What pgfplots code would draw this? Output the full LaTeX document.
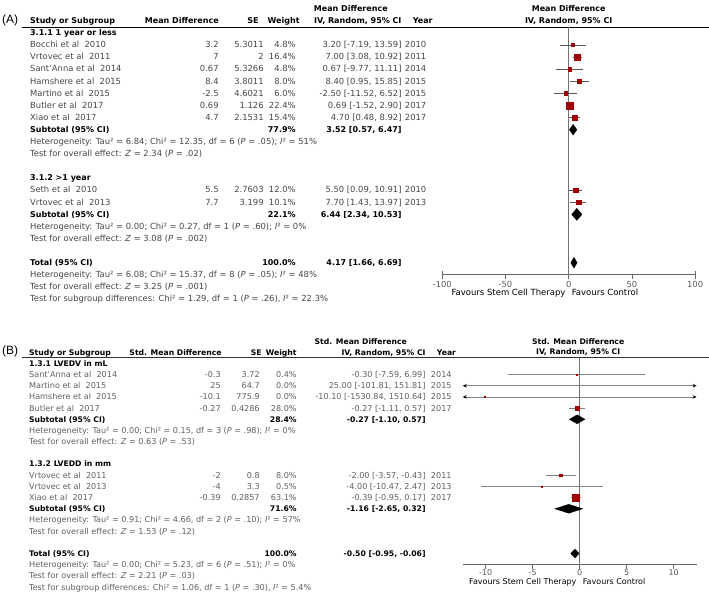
\documentclass[border=0pt]{standalone}
\usepackage{fontspec}
\setmainfont{DejaVu Sans}
\newfontfamily\labfont{Liberation Sans}
\usepackage{pgfplots}
\pgfplotsset{compat=1.18}
\usepackage{pgfplotstable}
\usetikzlibrary{arrows.meta}

\definecolor{sq}{RGB}{160,0,0}
\definecolor{txa}{RGB}{70,70,70}
\definecolor{txb}{RGB}{95,95,95}
\definecolor{cia}{RGB}{85,85,85}
\definecolor{cib}{RGB}{130,130,130}

% panel A: md lo hi weight row
\pgfplotstableread{
md    lo      hi     w    r
3.2   -7.19   13.59  4.8  1
7     3.08    10.92  16.4 2
0.67  -9.77   11.11  4.8  3
8.4   0.95    15.85  8.0  4
-2.5  -11.52  6.52   6.0  5
0.69  -1.52   2.90   22.4 6
4.7   0.48    8.92   15.4 7
5.5   0.09    10.91  12.0 13
7.7   1.43    13.97  10.1 14
}\studiesA

% panel B: std. md lo hi weight row
\pgfplotstableread{
md     lo        hi       w    r
-0.3   -7.59     6.99     0.4  1
25     -101.81   151.81   0.0  2
-10.1  -1530.84  1510.64  0.0  3
-0.27  -1.11     0.57     28.0 4
-2     -3.57     -0.43    8.0  10
-4     -10.47    2.47     0.5  11
-0.39  -0.95     0.17     63.1 12
}\studiesB

\tikzset{
  ta/.style={font=\fontsize{8.4}{10}\selectfont, text=txa, inner sep=0pt},
  tab/.style={font=\fontsize{8.0}{10}\selectfont\bfseries, text=black, inner sep=0pt},
  tb/.style={font=\fontsize{8.1}{10}\selectfont, text=txb, inner sep=0pt},
  tbb/.style={font=\fontsize{7.7}{10}\selectfont\bfseries, text=black, inner sep=0pt},
  fav/.style={font=\fontsize{8.5}{10}\selectfont, text=black, inner sep=0pt},
}

\pgfplotsset{
  forest/.style={
    scale only axis, clip=false,
    axis x line*=bottom, axis y line=none, ytick=\empty,
    tick align=outside, major tick length=4pt,
    axis line style={draw=black!60, line width=0.7pt},
    x tick style={draw=black!60, line width=0.7pt},
  },
  cibars/.style={draw=none, mark=none,
    error bars/.cd, x dir=both, x explicit, error mark=none,
    error bar style={draw=#1, line width=0.7pt}},
}

\newcommand\rowA[7]{%
  \node[ta,anchor=mid west] at (30,#1) {#2};
  \node[ta,anchor=mid east] at (219,#1) {#3};
  \node[ta,anchor=mid east] at (264,#1) {#4};
  \node[ta,anchor=mid east] at (296,#1) {#5};
  \node[ta,anchor=mid east] at (402,#1) {#6};
  \node[ta,anchor=mid west] at (405,#1) {#7};
}
\newcommand\rowB[7]{%
  \node[tb,anchor=mid west] at (29,#1) {#2};
  \node[tb,anchor=mid east] at (221,#1) {#3};
  \node[tb,anchor=mid east] at (260,#1) {#4};
  \node[tb,anchor=mid east] at (297,#1) {#5};
  \node[tb,anchor=mid east] at (426,#1) {#6};
  \node[tb,anchor=mid west] at (431,#1) {#7};
}
\newcommand\Pv{\textit{P}}

\begin{document}
\begin{tikzpicture}

\begin{scope}[x=1pt,y=-1pt]
  \path (0,0) rectangle (709,599);
  \draw[black, line width=0.8pt] (22,27) -- (709,27);
  \draw[black!80, line width=0.8pt] (22,358) -- (709,358);
  \node[fav,anchor=mid east] at (566,293) {Favours Stem Cell Therapy};
  \node[fav,anchor=mid west] at (572,293) {Favours Control};
  \node[fav,font=\fontsize{8.0}{10}\selectfont,anchor=mid east] at (577,582) {Favours Stem Cell Therapy};
  \node[fav,font=\fontsize{8.0}{10}\selectfont,anchor=mid west] at (583,582) {Favours Control};
\end{scope}

% ---------- panel A text ----------
\begin{scope}[x=1pt,y=-12.1pt,shift={(0pt,-33pt)}]
  \node[font=\labfont\fontsize{12}{14}\selectfont,anchor=mid west,inner sep=0pt] at (2,-1.05) {(A)};
  \node[tab,anchor=mid west] at (30,-1) {Study or Subgroup};
  \node[tab,anchor=mid east] at (219,-1) {Mean Difference};
  \node[tab,anchor=mid east] at (259,-1) {SE};
  \node[tab,anchor=mid east] at (300,-1) {Weight};
  \node[tab] at (351,-2) {Mean Difference};
  \node[tab] at (358,-1) {IV, Random, 95\% CI};
  \node[tab] at (423,-1) {Year};
  \node[tab] at (569,-2) {Mean Difference};
  \node[tab] at (569,-1) {IV, Random, 95\% CI};

  \node[tab,anchor=mid west] at (30,0) {3.1.1 1 year or less};
  \rowA{1}{Bocchi et al\ \ 2010}{3.2}{5.3011}{4.8\%}{3.20 [-7.19, 13.59]}{2010}
  \rowA{2}{Vrtovec et al\ \ 2011}{7}{2}{16.4\%}{7.00 [3.08, 10.92]}{2011}
  \rowA{3}{Sant'Anna et al\ \ 2014}{0.67}{5.3266}{4.8\%}{0.67 [-9.77, 11.11]}{2014}
  \rowA{4}{Hamshere et al\ \ 2015}{8.4}{3.8011}{8.0\%}{8.40 [0.95, 15.85]}{2015}
  \rowA{5}{Martino et al\ \ 2015}{-2.5}{4.6021}{6.0\%}{-2.50 [-11.52, 6.52]}{2015}
  \rowA{6}{Butler et al\ \ 2017}{0.69}{1.126}{22.4\%}{0.69 [-1.52, 2.90]}{2017}
  \rowA{7}{Xiao et al\ \ 2017}{4.7}{2.1531}{15.4\%}{4.70 [0.48, 8.92]}{2017}
  \node[tab,anchor=mid west] at (30,8) {Subtotal (95\% CI)};
  \node[tab,anchor=mid east] at (296,8) {77.9\%};
  \node[tab,anchor=mid east] at (402,8) {3.52 [0.57, 6.47]};
  \node[ta,anchor=mid west] at (30,9) {Heterogeneity: Tau² = 6.84; Chi² = 12.35, df = 6 (\Pv{} = .05); \textit{I}² = 51\%};
  \node[ta,anchor=mid west] at (30,10) {Test for overall effect: \textit{Z} = 2.34 (\Pv{} = .02)};

  \node[tab,anchor=mid west] at (30,12) {3.1.2 >1 year};
  \rowA{13}{Seth et al\ \ 2010}{5.5}{2.7603}{12.0\%}{5.50 [0.09, 10.91]}{2010}
  \rowA{14}{Vrtovec et al\ \ 2013}{7.7}{3.199}{10.1\%}{7.70 [1.43, 13.97]}{2013}
  \node[tab,anchor=mid west] at (30,15) {Subtotal (95\% CI)};
  \node[tab,anchor=mid east] at (296,15) {22.1\%};
  \node[tab,anchor=mid east] at (402,15) {6.44 [2.34, 10.53]};
  \node[ta,anchor=mid west] at (30,16) {Heterogeneity: Tau² = 0.00; Chi² = 0.27, df = 1 (\Pv{} = .60); \textit{I}² = 0\%};
  \node[ta,anchor=mid west] at (30,17) {Test for overall effect: \textit{Z} = 3.08 (\Pv{} = .002)};

  \node[tab,anchor=mid west] at (30,19) {Total (95\% CI)};
  \node[tab,anchor=mid east] at (296,19) {100.0\%};
  \node[tab,anchor=mid east] at (402,19) {4.17 [1.66, 6.69]};
  \node[ta,anchor=mid west] at (30,20) {Heterogeneity: Tau² = 6.08; Chi² = 15.37, df = 8 (\Pv{} = .05); \textit{I}² = 48\%};
  \node[ta,anchor=mid west] at (30,21) {Test for overall effect: \textit{Z} = 3.25 (\Pv{} = .001)};
  \node[ta,anchor=mid west] at (30,22) {Test for subgroup differences: Chi² = 1.29, df = 1 (\Pv{} = .26), \textit{I}² = 22.3\%};
\end{scope}

% ---------- panel B text ----------
\begin{scope}[x=1pt,y=-11.19pt,shift={(0pt,-363.8pt)}]
  \node[font=\labfont\fontsize{12}{14}\selectfont,anchor=mid west,inner sep=0pt] at (2,-1.05) {(B)};
  \node[tbb,anchor=mid west] at (29,-1) {Study or Subgroup};
  \node[tbb,anchor=mid east] at (222,-1) {Std. Mean Difference};
  \node[tbb,anchor=mid east] at (262,-1) {SE};
  \node[tbb,anchor=mid east] at (297,-1) {Weight};
  \node[tbb] at (361,-2) {Std. Mean Difference};
  \node[tbb,anchor=mid east] at (426,-1) {IV, Random, 95\% CI};
  \node[tbb,anchor=mid west] at (437,-1) {Year};
  \node[tbb] at (578.5,-2) {Std. Mean Difference};
  \node[tbb] at (578.5,-1) {IV, Random, 95\% CI};

  \node[tbb,anchor=mid west] at (29,0) {1.3.1 LVEDV in mL};
  \rowB{1}{Sant'Anna et al\ \ 2014}{-0.3}{3.72}{0.4\%}{-0.30 [-7.59, 6.99]}{2014}
  \rowB{2}{Martino et al\ \ 2015}{25}{64.7}{0.0\%}{25.00 [-101.81, 151.81]}{2015}
  \rowB{3}{Hamshere et al\ \ 2015}{-10.1}{775.9}{0.0\%}{-10.10 [-1530.84, 1510.64]}{2015}
  \rowB{4}{Butler et al\ \ 2017}{-0.27}{0.4286}{28.0\%}{-0.27 [-1.11, 0.57]}{2017}
  \node[tbb,anchor=mid west] at (29,5) {Subtotal (95\% CI)};
  \node[tbb,anchor=mid east] at (297,5) {28.4\%};
  \node[tbb,anchor=mid east] at (426,5) {-0.27 [-1.10, 0.57]};
  \node[tb,anchor=mid west] at (29,6) {Heterogeneity: Tau² = 0.00; Chi² = 0.15, df = 3 (\Pv{} = .98); \textit{I}² = 0\%};
  \node[tb,anchor=mid west] at (29,7) {Test for overall effect: \textit{Z} = 0.63 (\Pv{} = .53)};

  \node[tbb,anchor=mid west] at (29,9) {1.3.2 LVEDD in mm};
  \rowB{10}{Vrtovec et al\ \ 2011}{-2}{0.8}{8.0\%}{-2.00 [-3.57, -0.43]}{2011}
  \rowB{11}{Vrtovec et al\ \ 2013}{-4}{3.3}{0.5\%}{-4.00 [-10.47, 2.47]}{2013}
  \rowB{12}{Xiao et al\ \ 2017}{-0.39}{0.2857}{63.1\%}{-0.39 [-0.95, 0.17]}{2017}
  \node[tbb,anchor=mid west] at (29,13) {Subtotal (95\% CI)};
  \node[tbb,anchor=mid east] at (297,13) {71.6\%};
  \node[tbb,anchor=mid east] at (426,13) {-1.16 [-2.65, 0.32]};
  \node[tb,anchor=mid west] at (29,14) {Heterogeneity: Tau² = 0.91; Chi² = 4.66, df = 2 (\Pv{} = .10); \textit{I}² = 57\%};
  \node[tb,anchor=mid west] at (29,15) {Test for overall effect: \textit{Z} = 1.53 (\Pv{} = .12)};

  \node[tbb,anchor=mid west] at (29,17) {Total (95\% CI)};
  \node[tbb,anchor=mid east] at (297,17) {100.0\%};
  \node[tbb,anchor=mid east] at (426,17) {-0.50 [-0.95, -0.06]};
  \node[tb,anchor=mid west] at (29,18) {Heterogeneity: Tau² = 0.00; Chi² = 5.23, df = 6 (\Pv{} = .51); \textit{I}² = 0\%};
  \node[tb,anchor=mid west] at (29,19) {Test for overall effect: \textit{Z} = 2.21 (\Pv{} = .03)};
  \node[tb,anchor=mid west] at (29,20) {Test for subgroup differences: Chi² = 1.06, df = 1 (\Pv{} = .30), \textit{I}² = 5.4\%};
\end{scope}

% ---------- panel A forest ----------
\begin{axis}[forest,
  at={(442.5pt,-275pt)}, anchor=south west,
  width=253pt, height=248.05pt,
  xmin=-100, xmax=100, ymin=-20, ymax=0.5,
  xtick={-100,-50,0,50,100}, xticklabels={-100,-50,0,50,100},
  extra x ticks={-100,100}, extra x tick labels={},
  extra x tick style={tick align=inside},
  xticklabel style={font=\fontsize{8.4}{10}\selectfont, text=black!65, yshift=1.5pt},
]
  \addplot[draw=black!55, line width=0.7pt] coordinates {(0,0.5) (0,-20)};
  \addplot[cibars=cia]
    table[x=md, y expr=-\thisrow{r},
          x error plus expr=\thisrow{hi}-\thisrow{md},
          x error minus expr=\thisrow{md}-\thisrow{lo}] {\studiesA};
  \addplot[scatter, only marks, mark=square*,
    scatter/use mapped color={draw=sq, fill=sq},
    visualization depends on={0.72*sqrt(\thisrow{w}) \as \msz},
    scatter/@pre marker code/.append style={/tikz/mark size=\msz, /tikz/line width=0pt}]
    table[x=md, y expr=-\thisrow{r}] {\studiesA};
  % subtotals and total
  \addplot[fill=black, draw=black, line width=0.3pt] coordinates {(0.57,-8) (3.52,-7.55) (6.47,-8) (3.52,-8.45)} -- cycle;
  \addplot[fill=black, draw=black, line width=0.3pt] coordinates {(2.34,-15) (6.44,-14.5) (10.53,-15) (6.44,-15.5)} -- cycle;
  \addplot[fill=black, draw=black, line width=0.3pt] coordinates {(1.66,-19) (4.17,-18.55) (6.69,-19) (4.17,-19.45)} -- cycle;
\end{axis}

% ---------- panel B forest ----------
\begin{axis}[forest,
  at={(463pt,-565pt)}, anchor=south west,
  width=234pt, height=207pt,
  xmin=-12.45, xmax=12.45, ymin=-18, ymax=0.5,
  xtick={-10,-5,0,5,10}, xticklabels={-10,-5,0,5,10},
  xticklabel style={font=\fontsize{8.0}{10}\selectfont, text=black!65, yshift=2.5pt},
]
  \addplot[draw=black!55, line width=0.7pt] coordinates {(0,0.5) (0,-18)};
  \addplot[restrict expr to domain={\thisrow{hi}-\thisrow{lo}}{0:50},
    cibars=cib]
    table[x=md, y expr=-\thisrow{r},
          x error plus expr=\thisrow{hi}-\thisrow{md},
          x error minus expr=\thisrow{md}-\thisrow{lo}] {\studiesB};
  % intervals wider than the axis: arrows at both ends
  \addplot[draw=cib, line width=0.7pt,
    {Stealth[length=4pt,width=3.5pt,black]}-{Stealth[length=4pt,width=3.5pt,black]}]
    coordinates {(-12.45,-2) (12.45,-2)};
  \addplot[draw=cib, line width=0.7pt,
    {Stealth[length=4pt,width=3.5pt,black]}-{Stealth[length=4pt,width=3.5pt,black]}]
    coordinates {(-12.45,-3) (12.45,-3)};
  \addplot[scatter, only marks, mark=square*,
    restrict x to domain=-12.45:12.45,
    scatter/use mapped color={draw=sq, fill=sq},
    visualization depends on={max(0.45,0.44*sqrt(\thisrow{w})) \as \msz},
    scatter/@pre marker code/.append style={/tikz/mark size=\msz, /tikz/line width=0pt}]
    table[x=md, y expr=-\thisrow{r}] {\studiesB};
  \addplot[fill=black, draw=black, line width=0.3pt] coordinates {(-1.10,-5) (-0.27,-4.6) (0.57,-5) (-0.27,-5.4)} -- cycle;
  \addplot[fill=black, draw=black, line width=0.3pt] coordinates {(-2.65,-13) (-1.16,-12.6) (0.32,-13) (-1.16,-13.4)} -- cycle;
  \addplot[fill=black, draw=black, line width=0.3pt] coordinates {(-0.95,-17) (-0.50,-16.6) (-0.06,-17) (-0.50,-17.4)} -- cycle;
\end{axis}

\end{tikzpicture}
\end{document}
